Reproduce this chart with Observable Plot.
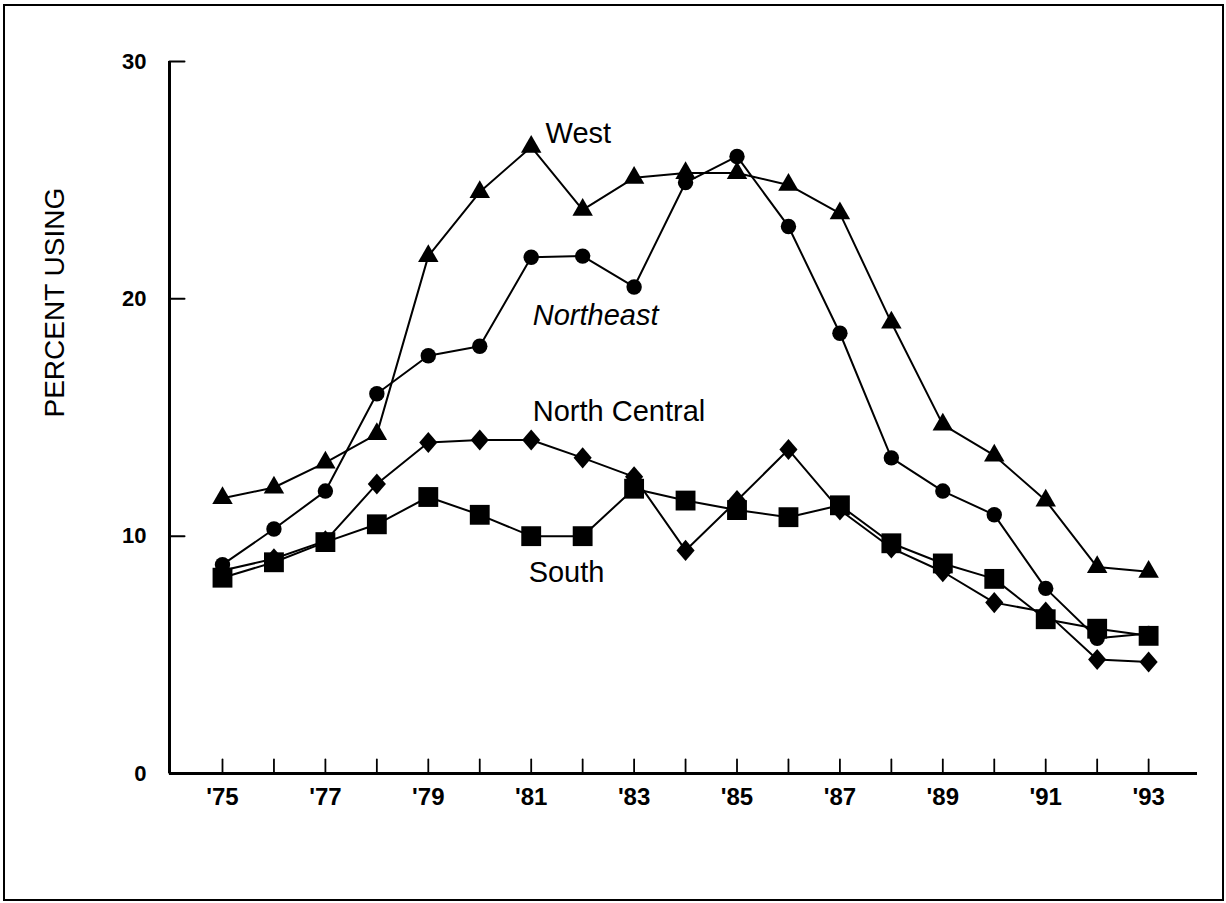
<!DOCTYPE html>
<html>
<head>
<meta charset="utf-8">
<script src="https://cdn.jsdelivr.net/npm/d3@7"></script>
<script src="https://cdn.jsdelivr.net/npm/@observablehq/plot@0.6"></script>
<style>
  html, body { margin: 0; padding: 0; background: #fff; }
  #wrap { position: relative; width: 1226px; height: 903px; }
  #frame { position: absolute; left: 3px; top: 4px; width: 1221px; height: 897px; box-sizing: border-box; border: 2.5px solid #000; pointer-events: none; }
  svg { display: block; }
</style>
</head>
<body>
<div id="wrap"><div id="chart"></div><div id="frame"></div></div>
<script>
// ---- data ----
const years = [1975,1976,1977,1978,1979,1980,1981,1982,1983,1984,1985,1986,1987,1988,1989,1990,1991,1992,1993];
const west         = [11.6,12.05,13.1,14.3,21.8,24.5,26.4,23.75,25.1,25.3,25.3,24.8,23.6,19.0,14.7,13.4,11.5,8.7,8.5];
const northeast    = [8.8,10.3,11.9,16.0,17.6,18.0,21.75,21.8,20.5,24.9,26.0,23.05,18.55,13.3,11.9,10.9,7.8,5.7,5.9];
const northCentral = [8.55,9.05,9.8,12.2,13.95,14.05,14.05,13.3,12.5,9.4,11.5,13.65,11.1,9.5,8.5,7.2,6.8,4.8,4.7];
const south        = [8.25,8.9,9.75,10.5,11.65,10.9,10.0,10.0,12.0,11.5,11.1,10.8,11.3,9.7,8.85,8.2,6.5,6.1,5.8];

const yTicks = [0, 10, 20, 30];
const xTicks = years;
const xLabelYears = [1975,1977,1979,1981,1983,1985,1987,1989,1991,1993];
const yTitle = "PERCENT USING";

// series labels anchored in data space
const seriesLabels = [
  {text: "West",          year: 1981.28, value: 26.97, italic: false},
  {text: "Northeast",     year: 1981.03, value: 19.3,  italic: true},
  {text: "North Central", year: 1981.03, value: 15.25, italic: false},
  {text: "South",         year: 1980.95, value: 8.47,  italic: false}
];

// ---- build table ----
const series = [
  {name: "West", values: west},
  {name: "Northeast", values: northeast},
  {name: "North Central", values: northCentral},
  {name: "South", values: south}
];
const rows = series.flatMap(s => years.map((yr, i) => ({region: s.name, year: yr, value: s.values[i]})));
const of = name => rows.filter(d => d.region === name);

const font = "'Liberation Sans', Arial, Helvetica, sans-serif";

const tickShape = {draw(context, l) { context.moveTo(0, 0); context.lineTo(0, -l); }};
const diamondShape = {draw(context, size) {
  const b = Math.sqrt(size / 1.72), a = 0.86 * b;
  context.moveTo(0, -b); context.lineTo(a, 0); context.lineTo(0, b); context.lineTo(-a, 0); context.closePath();
}};

const xDomain = [1973.97, 1993.95];
const yDomain = [0, 30];

const chart = Plot.plot({
  width: 1226,
  height: 903,
  marginLeft: 169,
  marginRight: 29,
  marginTop: 61,
  marginBottom: 130,
  style: {fontFamily: font, background: "transparent", color: "#000"},
  x: {type: "linear", domain: xDomain, axis: null},
  y: {type: "linear", domain: yDomain, axis: null},
  marks: [
    // axis lines
    Plot.ruleX([xDomain[0]], {stroke: "#000", strokeWidth: 3}),
    Plot.ruleY([yDomain[0]], {stroke: "#000", strokeWidth: 3}),
    // inward ticks
    Plot.vector(yTicks, {y: d => d, frameAnchor: "left", length: 15, rotate: 90, anchor: "start", shape: tickShape, stroke: "#000", strokeWidth: 2}),
    Plot.vector(xTicks, {x: d => d, frameAnchor: "bottom", length: 14, rotate: 0, anchor: "start", shape: tickShape, stroke: "#000", strokeWidth: 1.8}),
    // tick labels
    Plot.text(yTicks, {y: d => d, frameAnchor: "left", dx: -23, textAnchor: "end", text: d => String(d), fontSize: 22, fontWeight: "bold", fill: "#000"}),
    Plot.text(xLabelYears, {x: d => d, frameAnchor: "bottom", dy: 31, text: d => "'" + String(d).slice(2), fontSize: 24, fontWeight: "bold", fill: "#000"}),
    // y title
    Plot.text([yTitle], {frameAnchor: "left", dx: -114, rotate: -90, text: d => d, fontSize: 28, fill: "#000"}),
    // lines
    Plot.line(rows, {x: "year", y: "value", z: "region", stroke: "#000", strokeWidth: 2}),
    // markers
    Plot.dot(of("West"), {x: "year", y: "value", symbol: "triangle", r: 7.6, fill: "#000", stroke: "none"}),
    Plot.dot(of("Northeast"), {x: "year", y: "value", symbol: "circle", r: 7.7, fill: "#000", stroke: "none"}),
    Plot.dot(of("North Central"), {x: "year", y: "value", symbol: diamondShape, r: 7.8, fill: "#000", stroke: "none"}),
    Plot.dot(of("South"), {x: "year", y: "value", symbol: "square", r: 11.2, fill: "#000", stroke: "none"}),
    // series labels
    Plot.text(seriesLabels.filter(d => !d.italic), {x: "year", y: "value", text: "text", textAnchor: "start", fontSize: 29, fill: "#000"}),
    Plot.text(seriesLabels.filter(d => d.italic), {x: "year", y: "value", text: "text", textAnchor: "start", fontSize: 29, fontStyle: "italic", fill: "#000"})
  ]
});
document.getElementById("chart").appendChild(chart);
</script>
</body>
</html>
